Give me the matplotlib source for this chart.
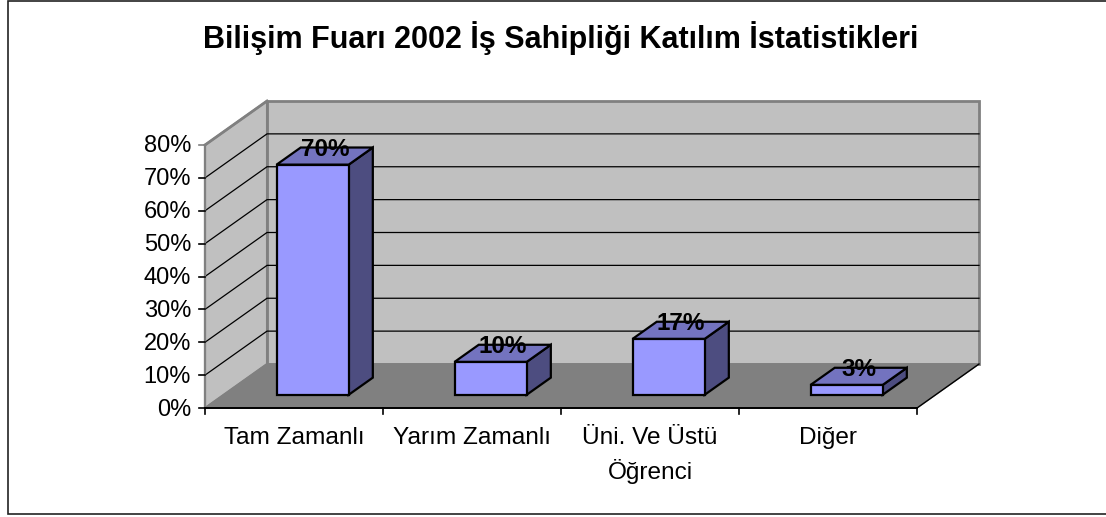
#!/usr/bin/env python3

import matplotlib
matplotlib.use('Agg')
import matplotlib.pyplot as plt
from matplotlib.patches import Polygon, Rectangle

TITLE = "Bilişim Fuarı 2002 İş Sahipliği Katılım İstatistikleri"
CATEGORIES = ["Tam Zamanlı", "Yarım Zamanlı", "Üni. Ve Üstü\nÖğrenci", "Diğer"]
VALUES = [70, 10, 17, 3]
Y_TICKS = [0, 10, 20, 30, 40, 50, 60, 70, 80]

# pixel layout of the fake 3d box
X0, Y0 = 205, 408
CAT_W = 178
Y_SCALE = 263 / 80
DEPTH_X, DEPTH_Y = 62, -44
BAR_W = 0.405
BAR_D0, BAR_D1 = 0.30, 0.69

WALL = "#c0c0c0"
FLOOR = "#808080"
EDGE = "#808080"
FRONT = "#9999ff"
TOP = "#7373bf"
SIDE = "#4d4d80"


def proj(x, v, d=0.0):
	# x in category units, v in percent, d in depth fraction
	return (X0 + x * CAT_W + d * DEPTH_X, Y0 - v * Y_SCALE + d * DEPTH_Y)


def face(ax, pts, fc, ec="black", lw=1.6, z=2):
	ax.add_patch(Polygon(pts, closed=True, fc=fc, ec=ec, lw=lw, zorder=z, joinstyle='miter'))


fig = plt.figure(figsize=(11.06, 5.17), dpi=100)
ax = fig.add_axes([0, 0, 1, 1])
ax.set_xlim(0, 1106)
ax.set_ylim(517, 0)
ax.axis('off')
plt.rcParams['font.family'] = ['Liberation Sans', 'DejaVu Sans']

# frame runs off the right edge of the picture
ax.add_patch(Rectangle((7.5, 0.5), 1110, 513, fc='white', ec='#222222', lw=1.2, zorder=0))

n = len(CATEGORIES)
top = Y_TICKS[-1]
# walls and floor
face(ax, [proj(0, 0, 1), proj(n, 0, 1), proj(n, top, 1), proj(0, top, 1)], WALL, ec=EDGE, lw=2, z=1)
face(ax, [proj(0, 0), proj(0, 0, 1), proj(0, top, 1), proj(0, top)], WALL, ec=EDGE, lw=1.5, z=1)
face(ax, [proj(0, 0), proj(n, 0), proj(n, 0, 1), proj(0, 0, 1)], FLOOR, ec=FLOOR, lw=1, z=1)

# gridlines
for t in Y_TICKS[1:-1]:
	xs, ys = zip(proj(0, t), proj(0, t, 1), proj(n, t, 1))
	ax.plot(xs, ys, color='black', lw=0.9, zorder=1.5)

# axes and ticks
xs, ys = zip(proj(0, top), proj(0, 0), proj(n, 0), proj(n, 0, 1))
ax.plot(xs[:2], ys[:2], color=EDGE, lw=1.6, zorder=1.6)
ax.plot(xs[1:3], ys[1:3], color='black', lw=1.4, zorder=1.6)
ax.plot(xs[2:], ys[2:], color='black', lw=1.0, zorder=1.6)
ax.plot([proj(0, top)[0], proj(0, top, 1)[0]], [proj(0, top)[1], proj(0, top, 1)[1]], color=EDGE, lw=2, zorder=1.6)
for t in Y_TICKS:
	x, y = proj(0, t)
	ax.plot([x - 6, x], [y, y], color='black' if t < top else EDGE, lw=1.2, zorder=1.6)
	ax.text(x - 14, y + 1.5, "{}%".format(t), ha='right', va='center', fontsize=17)
for i in range(n + 1):
	x, y = proj(i, 0)
	ax.plot([x, x], [y, y + 6], color='black', lw=1.2, zorder=1.6)

# bars
for i, (label, v) in enumerate(zip(CATEGORIES, VALUES)):
	x0 = i + 0.5 - BAR_W / 2
	x1 = i + 0.5 + BAR_W / 2
	face(ax, [proj(x1, 0, BAR_D0), proj(x1, 0, BAR_D1), proj(x1, v, BAR_D1), proj(x1, v, BAR_D0)], SIDE)
	face(ax, [proj(x0, v, BAR_D0), proj(x1, v, BAR_D0), proj(x1, v, BAR_D1), proj(x0, v, BAR_D1)], TOP)
	face(ax, [proj(x0, 0, BAR_D0), proj(x1, 0, BAR_D0), proj(x1, v, BAR_D0), proj(x0, v, BAR_D0)], FRONT)
	lx, ly = proj(i + 0.5, v, 0.5)
	ax.text(lx, ly - 6.5, "{}%".format(v), ha='center', va='center', fontsize=17.5, fontweight='bold', zorder=3)
	cx, cy = proj(i + 0.5, 0)
	ax.text(cx, cy + 19, label, ha='center', va='top', fontsize=17.6, linespacing=1.5)

ax.text(561, 38, TITLE, ha='center', va='center', fontsize=22, fontweight='bold')

fig.savefig("out.png", dpi=100)
